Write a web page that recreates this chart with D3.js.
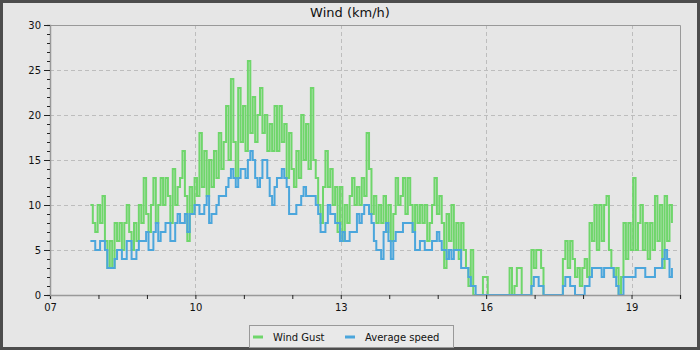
<!DOCTYPE html>
<html>
<head>
<meta charset="utf-8">
<script src="https://cdn.jsdelivr.net/npm/d3@7"></script>
<style>
  body { margin: 0; background: #4d4d4d; }
  text { font-family: "DejaVu Sans", sans-serif; fill: #111; }
</style>
</head>
<body>
<div class="canvas"></div>
<script>
// data: one sample every 3 minutes starting 07:50
const startTime = '07:50';
const stepMinutes = 3;

const gust = [
  10,8,7,10,8,11,6,3,6,3, 8,6,8,5,8,10,7,5,8,6, 10,8,13,9,7,10,13,8,10,13, 10,13,11,8,14,10,12,13,16,11,
  6,12,9,13,11,18,12,16,11,15, 12,16,13,18,14,17,21,15,24,17, 13,23,17,21,16,26,18,22,17,20, 23,18,20,16,19,16,21,16,21,17, 19,
  13,18,14,12,16,13,20,15,19,14, 23,15,13,10,8,12,16,12,14,10, 12,7,12,6,10,8,11,13,10,12, 10,13,11,18,14,9,11,8,10,8, 11,
  7,10,6,9,13,10,11,13,9,13, 10,7,10,8,10,8,10,6,8,10, 13,9,11,8,3,9,6,10,5,8, 4,8,5,3,1,5,0,0,0,0, 2,
  2,0,0,0,0,0,0,0,0,0, 3,0,1,3,3,0,0,0,0,5, 3,5,5,3,0,0,0,0,0,0, 0,0,4,6,3,6,4,2,3,1, 3,
  4,2,8,6,10,5,10,6,10,11, 5,3,2,3,0,2,8,4,8,5, 13,5,8,10,5,8,4,8,5,11, 6,10,3,11,6,10,8
];

const avgSpeed = [
  6,6,5,5,6,6,5,3,3,3, 4,5,5,4,4,6,6,4,4,5, 6,6,6,7,5,5,7,8,6,7, 7,8,8,6,6,8,9,8,8,9,
  7,9,9,10,10,9,9,10,11,8, 9,9,10,11,11,11,12,13,14,13, 12,13,14,14,13,15,16,15,13,12, 13,15,15,13,11,10,12,13,13,14, 13,
  12,9,9,9,10,10,11,12,11,11, 11,11,10,9,7,7,8,10,9,9, 8,8,6,7,6,6,7,7,7,9, 8,9,10,10,9,8,6,5,5,4, 7,
  8,6,4,6,7,7,7,8,8,8, 8,7,5,5,6,6,5,5,5,6, 6,7,6,5,5,4,5,4,5,5, 5,3,3,3,2,1,1,0,0,0, 0,
  0,0,0,0,0,0,0,0,0,0, 0,0,0,0,0,0,0,0,0,1, 2,2,1,1,0,0,0,0,0,0, 0,0,1,2,2,1,1,0,0,0, 0,
  1,1,2,3,3,3,3,2,3,3, 3,3,2,1,0,0,2,2,2,2, 2,3,3,3,3,2,2,2,2,3, 3,3,4,5,4,2,3
];

const yTicks = [0, 5, 10, 15, 20, 25, 30];
const xTickHours = [7, 10, 13, 16, 19];
const seriesNames = ['Wind Gust', 'Average speed'];
const seriesColors = ['#6fd66b', '#4ba6dc'];

const parse = d3.timeParse('%H:%M');
const t0 = parse(startTime);
const times = gust.map((d, i) => d3.timeMinute.offset(t0, i * stepMinutes));

const width = 700;
const height = 350;
const margin = { top: 25, right: 20, bottom: 55, left: 50 };
const graphWidth = width - margin.left - margin.right;
const graphHeight = height - margin.top - margin.bottom;

const svg = d3.select('.canvas')
  .append('svg')
  .attr('width', width)
  .attr('height', height)
  .style('display', 'block');

// frame
svg.append('rect')
  .attr('x', 3).attr('y', 3)
  .attr('width', width - 6).attr('height', height - 6)
  .attr('fill', '#e6e6e6');

svg.append('text')
  .attr('x', width / 2)
  .attr('y', 17)
  .attr('text-anchor', 'middle')
  .style('font-size', '13px')
  .text('Wind (km/h)');

const graph = svg.append('g')
  .attr('transform', `translate(${margin.left}, ${margin.top})`);

// scales
const x = d3.scaleTime()
  .domain([parse('07:00'), parse('20:00')])
  .range([0, graphWidth]);

const y = d3.scaleLinear()
  .domain([0, 30])
  .range([graphHeight, 0]);

// grid
graph.append('g')
  .selectAll('line')
  .data(yTicks.filter(d => d > 0 && d < 30))
  .join('line')
  .attr('x1', 0).attr('x2', graphWidth)
  .attr('y1', d => y(d) + 0.5).attr('y2', d => y(d) + 0.5)
  .attr('stroke', '#bdbdbd')
  .attr('stroke-dasharray', '4,3');

graph.append('g')
  .selectAll('line')
  .data(xTickHours.filter(h => h > 7))
  .join('line')
  .attr('x1', h => Math.round(x(d3.timeHour.offset(parse('00:00'), h))) + 0.5)
  .attr('x2', h => Math.round(x(d3.timeHour.offset(parse('00:00'), h))) + 0.5)
  .attr('y1', 0).attr('y2', graphHeight)
  .attr('stroke', '#bdbdbd')
  .attr('stroke-dasharray', '4,3');

// lines
const line = d3.line()
  .curve(d3.curveStepAfter)
  .x((d, i) => x(times[i]))
  .y(d => y(d));

[gust, avgSpeed].forEach((series, k) => {
  graph.append('path')
    .datum(series)
    .attr('fill', 'none')
    .attr('stroke', seriesColors[k])
    .attr('stroke-width', 2)
    .attr('d', line);
});

// plot border top/right
graph.append('path')
  .attr('d', `M0.5,0.5H${graphWidth + 0.5}V${graphHeight}`)
  .attr('fill', 'none')
  .attr('stroke', '#999');

// axes
const xAxis = d3.axisBottom(x)
  .ticks(d3.timeHour.every(1))
  .tickSize(4)
  .tickFormat(d => xTickHours.includes(d.getHours()) ? d3.timeFormat('%H')(d) : '');

const yAxis = d3.axisLeft(y)
  .ticks(30)
  .tickSize(3)
  .tickFormat(d => yTicks.includes(d) ? d : '');

const xAxisGroup = graph.append('g')
  .attr('transform', `translate(0, ${graphHeight})`)
  .call(xAxis);

const yAxisGroup = graph.append('g')
  .call(yAxis);

[xAxisGroup, yAxisGroup].forEach(g => {
  g.select('.domain').attr('stroke', '#999').attr('stroke-width', 1.5);
  g.selectAll('.tick line').attr('stroke', '#222');
  g.selectAll('text').style('font-size', '10px').attr('fill', '#111');
});

xAxisGroup.selectAll('.tick text').attr('dy', '0.9em');
yAxisGroup.selectAll('.tick')
  .filter(d => yTicks.includes(d))
  .select('line').attr('x2', -6);
yAxisGroup.selectAll('.tick text').attr('x', -9);

// legend
const legend = svg.append('g')
  .attr('transform', 'translate(249, 325)');

legend.append('rect')
  .attr('x', 0.5).attr('y', 0.5)
  .attr('width', 204).attr('height', 22)
  .attr('fill', '#e9e9e9')
  .attr('stroke', '#999');

const legendX = [4, 96];
seriesNames.forEach((name, k) => {
  legend.append('line')
    .attr('x1', legendX[k]).attr('x2', legendX[k] + 10)
    .attr('y1', 12).attr('y2', 12)
    .attr('stroke', seriesColors[k])
    .attr('stroke-width', 3);
  legend.append('text')
    .attr('x', legendX[k] + 20)
    .attr('y', 15.5)
    .style('font-size', '10px')
    .text(name);
});
</script>
</body>
</html>
